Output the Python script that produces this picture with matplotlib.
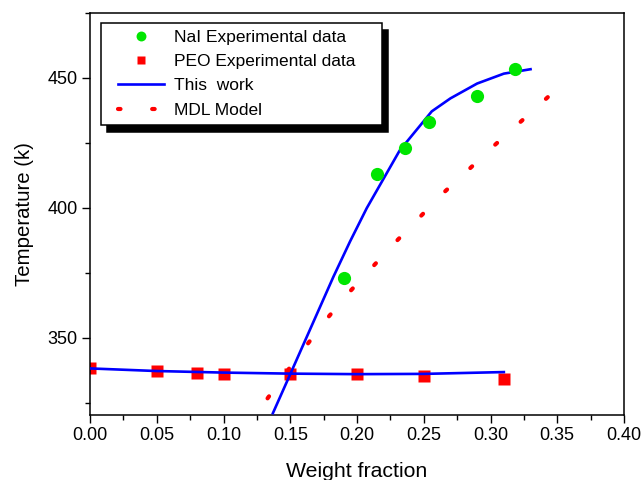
import numpy as np
import matplotlib
matplotlib.use('Agg')
import matplotlib.pyplot as plt
from matplotlib.ticker import MultipleLocator, FormatStrFormatter
from matplotlib.lines import Line2D
from matplotlib.legend_handler import HandlerLine2D

plt.rcParams['font.family'] = ['Liberation Sans', 'DejaVu Sans']

# NaI experimental data
nai_x = [0.190, 0.2147, 0.236, 0.254, 0.290, 0.318]
nai_y = [373.0, 412.9, 423.0, 433.0, 443.0, 453.2]

# PEO experimental data
peo_x = [0.00, 0.05, 0.08, 0.10, 0.15, 0.20, 0.25, 0.31]
peo_y = [338.2, 337.1, 336.5, 336.0, 336.2, 336.2, 335.4, 334.3]

# This work - NaI branch
work_nai_x = [0.137, 0.150, 0.1823, 0.1948, 0.2073, 0.232, 0.256, 0.270, 0.290, 0.310, 0.330]
work_nai_y = [321.0, 336.0, 373.4, 387.0, 399.8, 422.0, 437.0, 442.0, 447.7, 451.5, 453.2]

# This work - PEO branch
work_peo_x = [0.00, 0.05, 0.10, 0.15, 0.20, 0.25, 0.31]
work_peo_y = [338.2, 337.2, 336.6, 336.2, 336.0, 336.1, 336.8]

# MDL model
mdl_x = [0.133, 0.1475, 0.1615, 0.1765, 0.1928, 0.2107, 0.228, 0.246, 0.2646, 0.284, 0.3035, 0.323, 0.343]
mdl_y = [326.7, 337.0, 346.6, 356.7, 366.7, 376.7, 386.3, 395.8, 405.6, 414.8, 424.2, 433.2, 442.5]

fig = plt.figure(figsize=(6.44, 4.8), dpi=100)
ax = fig.add_axes([90/644, 1-415/480, (624-90)/644, (415-12.5)/480])

green = '#00e600'
ax.plot(mdl_x, mdl_y, color='red', lw=3.0, linestyle=(0, (0.6, 7.6)),
        dash_capstyle='round', label='MDL Model', zorder=2)
ax.plot(work_nai_x, work_nai_y, color='blue', lw=1.9, label='This  work', zorder=3)
ax.plot(work_peo_x, work_peo_y, color='blue', lw=1.9, zorder=3)
ax.plot(nai_x, nai_y, 'o', color=green, ms=9.5, mec='none', label='NaI Experimental data', zorder=4)
ax.plot(peo_x, peo_y, 's', color='red', ms=8.5, mec='none', label='PEO Experimental data', zorder=2.5)

ax.set_xlim(0, 0.40)
ax.set_ylim(320.3, 475)
ax.xaxis.set_major_locator(MultipleLocator(0.05))
ax.xaxis.set_minor_locator(MultipleLocator(0.025))
ax.yaxis.set_major_locator(MultipleLocator(50))
ax.yaxis.set_minor_locator(MultipleLocator(25))
ax.xaxis.set_major_formatter(FormatStrFormatter('%.2f'))
ax.tick_params(which='major', direction='out', length=6, width=1, labelsize=13, pad=3)
ax.tick_params(which='minor', direction='out', length=3.5, width=1)
for s in ax.spines.values():
    s.set_linewidth(1.1)

ax.set_xlabel('Weight fraction', fontsize=15.3, labelpad=12.5)
ax.set_ylabel('Temperature (k)', fontsize=14.7, labelpad=9.5)

h, l = ax.get_legend_handles_labels()
order = [2, 3, 1, 0]
leg = ax.legend([h[i] for i in order], [l[i] for i in order],
                loc='upper left', bbox_to_anchor=(0.020, 0.875, 0.526, 0.1),
                mode='expand', borderaxespad=0,
                fontsize=12.5, frameon=True, fancybox=False, numpoints=1,
                markerscale=0.75, handlelength=3.22, labelspacing=0.53,
                handletextpad=0.58, borderpad=0.4,
                handler_map={Line2D: HandlerLine2D(xpad=0.58)},
                shadow={'ox': 4.5, 'oy': -5.5, 'facecolor': 'k', 'edgecolor': 'k', 'alpha': 1})
leg.get_frame().set_edgecolor('black')
leg.get_frame().set_linewidth(1.1)

fig.savefig('out.png', dpi=100)
